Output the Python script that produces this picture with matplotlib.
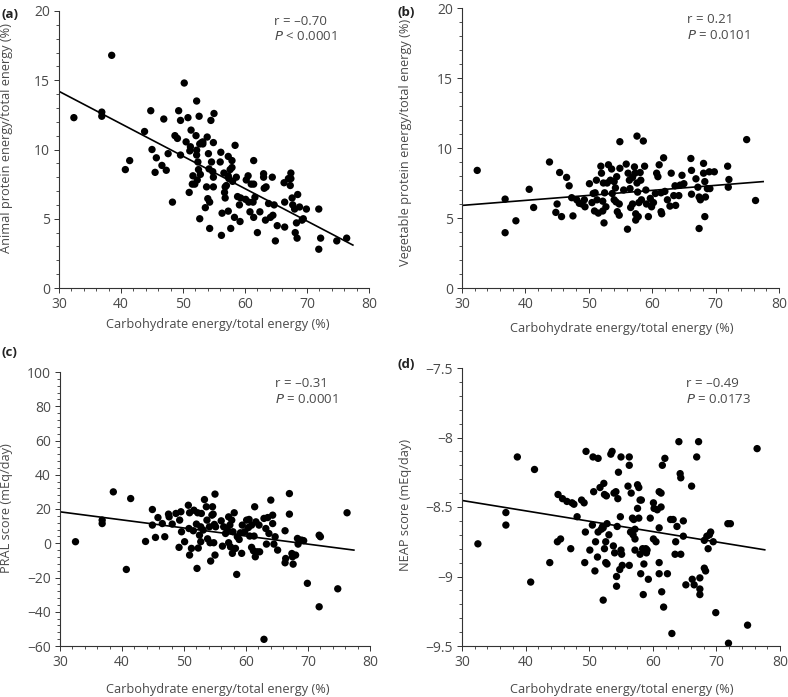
import numpy as np
import matplotlib.pyplot as plt
from matplotlib.ticker import MultipleLocator, FuncFormatter

plt.rcParams['font.family'] = ['Open Sans', 'DejaVu Sans']

# (a) hiilihydraatti vs eläinproteiini
carb_a = [32.4, 36.9, 36.9, 38.5, 40.7, 41.4, 43.8, 44.8, 45.0, 45.7, 45.5, 46.6, 46.9, 47.3, 47.6,
          48.3, 48.7, 49.1, 49.3, 49.6, 49.6, 50.2, 50.5, 50.8, 51.0, 51.1, 51.2, 51.3, 51.5, 51.9,
          51.6, 52.2, 52.1, 52.2, 52.2, 52.3, 52.4, 52.5, 52.6, 52.7, 52.8, 52.7, 53.0, 53.2, 53.2,
          53.6, 53.8, 53.9, 54.1, 54.2, 54.0, 54.3, 54.3, 54.5, 54.6, 54.8, 54.9, 55.0, 54.9, 54.9,
          56.1, 56.0, 56.3, 56.2, 56.6, 56.8, 56.7, 56.8, 57.0, 57.3, 57.3, 57.3, 57.4, 57.6, 57.7,
          57.9, 57.9, 58.0, 58.4, 58.3, 58.6, 58.8, 59.1, 59.2, 59.3, 60.1, 60.2, 60.5, 60.6, 60.8,
          61.0, 61.4, 61.3, 61.4, 61.6, 61.4, 62.0, 62.4, 63.0, 63.0, 63.1, 63.4, 63.3, 63.8, 64.1,
          64.4, 64.5, 64.7, 64.9, 65.2, 66.3, 66.4, 66.4, 67.0, 67.3, 67.4, 67.4, 67.6, 67.7, 68.0,
          68.1, 68.4, 68.3, 68.5, 68.8, 69.2, 69.4, 69.9, 71.9, 71.9, 72.2, 74.8, 76.4]
animal_a = [12.3, 12.7, 12.4, 16.8, 8.55, 9.2, 11.3, 12.8, 10.0, 9.4, 8.35, 8.85, 12.2, 8.5, 9.7,
            6.2, 11.0, 10.8, 12.8, 12.1, 9.6, 14.8, 10.55, 12.3, 6.9, 9.9, 10.2, 11.4, 7.5, 7.5,
            8.1, 13.5, 11.0, 9.95, 9.6, 7.8, 9.1, 8.55, 12.4, 10.4, 8.2, 5.0, 10.5, 10.55, 10.4,
            5.8, 7.3, 10.9, 9.7, 8.6, 6.45, 6.2, 4.3, 12.1, 9.1, 8.4, 10.5, 12.6, 8.0, 7.3,
            9.8, 9.1, 5.4, 3.8, 8.3, 7.3, 6.9, 6.5, 7.4, 9.5, 5.55, 8.1, 7.9, 8.55, 4.3,
            9.2, 8.7, 7.7, 10.3, 5.1, 8.0, 6.6, 6.0, 4.8, 6.5, 6.4, 7.8, 8.1, 6.2, 5.5,
            7.5, 7.5, 6.2, 9.2, 6.55, 5.1, 4.0, 5.5, 8.25, 8.0, 7.2, 7.3, 4.9, 6.1, 5.1,
            8.0, 5.25, 6.0, 3.4, 4.5, 7.6, 6.2, 4.4, 7.9, 7.4, 8.3, 7.9, 6.5, 6.0, 5.7,
            4.0, 3.6, 4.7, 6.75, 5.85, 4.9, 5.0, 5.7, 5.7, 2.8, 3.6, 3.4, 3.6]

# (b) hiilihydraatti vs kasviproteiini
carb_b = [32.4, 36.8, 36.8, 38.5, 40.6, 41.3, 43.8, 45.0, 44.8, 45.4, 45.7, 46.5, 46.9, 47.3, 47.5,
          48.1, 48.5, 48.9, 49.3, 49.4, 50.1, 50.5, 50.7, 50.9, 51.2, 51.0, 51.3, 51.5, 51.9, 52.0,
          52.2, 52.2, 52.3, 52.5, 52.4, 52.7, 52.9, 53.1, 53.4, 53.6, 53.7, 54.0, 54.0, 54.2, 54.3,
          54.4, 54.5, 54.8, 54.8, 54.9, 54.9, 55.5, 55.9, 56.1, 56.2, 56.4, 56.5, 56.6, 56.9, 56.9,
          57.2, 57.3, 57.4, 57.4, 57.6, 57.6, 57.7, 57.8, 57.9, 58.1, 58.2, 58.3, 58.6, 58.8, 59.0,
          59.1, 59.4, 59.7, 59.9, 60.2, 60.5, 60.7, 60.9, 61.1, 61.4, 61.4, 61.5, 61.8, 62.0, 62.4,
          62.8, 63.0, 63.4, 63.6, 63.7, 64.2, 64.4, 64.7, 65.0, 66.1, 66.2, 66.2, 66.9, 67.2, 67.4,
          67.4, 67.6, 68.1, 68.1, 68.3, 68.3, 68.4, 68.7, 69.0, 69.1, 69.8, 71.9, 72.0, 72.1, 74.9,
          76.3]
veg_b = [8.4, 6.35, 3.95, 4.8, 7.05, 5.75, 9.0, 6.0, 5.4, 8.25, 5.1, 7.9, 7.3, 6.45, 5.15,
         6.3, 6.05, 6.0, 6.3, 5.8, 7.45, 6.1, 6.75, 5.5, 7.7, 6.8, 6.3, 5.35, 8.7, 8.2,
         6.2, 5.5, 7.5, 6.8, 4.65, 5.8, 7.5, 8.8, 7.7, 8.5, 6.75, 6.3, 7.6, 7.15, 6.15,
         7.95, 5.45, 6.0, 5.2, 10.45, 8.55, 7.0, 8.85, 4.2, 8.2, 7.7, 7.1, 5.75, 6.0, 7.9,
         8.65, 8.2, 4.85, 5.3, 10.85, 7.5, 6.85, 5.1, 6.1, 8.25, 7.7, 6.3, 10.5, 8.7, 7.0,
         6.0, 5.1, 6.4, 5.8, 6.1, 6.75, 8.2, 7.95, 8.8, 6.8, 5.45, 5.3, 9.3, 6.9, 6.3,
         5.85, 8.2, 6.6, 7.3, 5.9, 6.6, 7.35, 8.05, 7.45, 9.25, 8.4, 6.7, 7.8, 7.2, 4.25,
         6.5, 6.3, 8.9, 8.2, 7.6, 5.1, 6.5, 7.1, 8.3, 7.1, 8.3, 8.7, 7.2, 7.75, 10.6,
         6.25]

# (c) hiilihydraatti vs PRAL
carb_c = [32.5, 36.8, 36.8, 38.6, 40.7, 41.4, 43.8, 44.9, 44.9, 45.4, 45.8, 46.5, 46.9, 47.5, 47.6,
          48.1, 48.7, 49.2, 49.3, 49.5, 49.6, 50.1, 50.7, 50.8, 50.9, 50.9, 51.2, 51.5, 51.6, 52.0,
          52.1, 52.2, 52.3, 52.5, 52.7, 52.7, 52.8, 53.1, 53.3, 53.6, 53.7, 53.8, 54.1, 54.2, 54.3,
          54.5, 54.6, 54.7, 54.8, 54.9, 55.0, 55.0, 55.1, 56.0, 56.4, 56.2, 56.7, 57.0, 57.2, 57.4,
          57.7, 57.2, 57.5, 57.9, 57.8, 58.1, 58.3, 58.5, 58.6, 58.9, 59.1, 59.3, 59.4, 59.8, 60.1,
          60.4, 60.5, 60.6, 60.9, 60.9, 61.2, 61.3, 61.4, 61.6, 61.5, 61.8, 62.1, 62.2, 62.9, 63.2,
          63.3, 63.5, 63.7, 64.0, 64.3, 64.3, 64.5, 64.7, 65.1, 66.3, 66.4, 66.3, 67.0, 67.0, 67.4,
          67.5, 67.6, 68.0, 68.3, 68.4, 68.7, 69.0, 69.3, 69.9, 71.8, 72.0, 71.8, 74.8, 76.3, 62.9]
pral_c = [0.9, 13.5, 11.5, 30.0, -15.3, 26.1, 1.05, 19.7, 10.6, 3.4, 15.0, 11.5, 3.8, 17.0, 15.4,
          11.2, 17.4, -2.4, 13.5, 18.4, 6.7, 0.9, 22.2, 8.6, -6.9, 17.8, -3.0, 7.3, 19.3, 11.2,
          -14.7, 17.8, -2.8, 4.7, 9.6, 0.9, 17.4, 7.7, 25.5, 21.3, 13.5, 2.6, 9.6, 0.3, -10.4,
          16.4, 21.3, 17.0, 0.3, 11.0, 28.7, -6.9, 9.6, 13.1, 9.6, -1.7, 5.7, 7.7, 15.4, 10.6,
          13.5, 0.3, -2.1, 6.7, -5.9, 17.8, -3.0, -18.2, 3.8, 2.2, 6.1, -5.9, 10.6, 6.7, 13.5,
          9.2, 13.9, 4.2, 10.6, -2.4, -4.4, 4.2, 21.3, 12.5, -7.9, -5.0, 10.6, -5.0, 14.5, 8.6,
          -0.5, 15.0, 5.7, 25.2, 16.4, 11.5, -0.5, 3.8, -4.0, 7.3, -8.9, -11.4, 29.0, 17.0, -6.0,
          -7.9, -12.2, -6.9, 2.8, -0.5, 1.8, 1.8, 1.5, -23.4, 4.7, 3.8, -37.1, -26.6, 17.8, -56.1]

# (d) hiilihydraatti vs NEAP
carb_d = [32.5, 36.9, 36.9, 38.7, 40.8, 41.4, 43.8, 45.0, 45.5, 45.1, 45.8, 46.5, 47.1, 47.3, 47.6,
          48.1, 48.8, 49.2, 49.3, 49.4, 49.5, 50.1, 50.5, 50.6, 50.7, 50.9, 51.0, 51.3, 51.4, 51.4,
          51.7, 51.9, 52.1, 52.2, 52.2, 52.3, 52.4, 52.4, 52.6, 52.6, 52.7, 52.8, 53.1, 52.8, 53.4,
          53.6, 53.8, 53.9, 54.0, 54.2, 54.3, 54.3, 54.4, 54.5, 54.6, 54.8, 54.9, 55.0, 55.0, 55.1,
          55.2, 56.1, 56.3, 56.3, 56.3, 56.6, 56.5, 56.8, 57.0, 56.9, 57.2, 57.2, 57.2, 57.6, 57.6,
          57.8, 57.8, 58.0, 58.0, 58.1, 58.2, 58.4, 58.5, 58.6, 58.9, 59.0, 59.1, 59.3, 59.6, 60.1,
          60.2, 60.1, 60.5, 60.7, 61.0, 61.0, 61.0, 61.0, 61.3, 61.3, 61.4, 61.5, 61.7, 61.9, 62.3,
          62.8, 63.2, 63.0, 63.5, 63.6, 63.8, 64.1, 64.3, 64.4, 64.4, 64.8, 64.8, 65.2, 66.1, 66.2,
          66.5, 66.9, 67.2, 67.4, 67.4, 67.4, 68.1, 68.3, 68.1, 68.5, 68.7, 68.9, 69.1, 69.5, 69.9,
          71.8, 72.2, 71.9, 74.9, 76.4]
neap_d = [-8.765, -8.54, -8.63, -8.14, -9.04, -8.23, -8.90, -8.75, -8.73, -8.41, -8.44, -8.46, -8.80, -8.47, -8.48,
          -8.57, -8.45, -8.47, -8.90, -8.68, -8.10, -8.81, -8.63, -8.14, -8.39, -8.96, -8.75, -8.86, -8.15, -8.68,
          -8.36, -8.66, -8.64, -9.17, -8.65, -8.33, -8.80, -8.41, -8.90, -8.75, -8.42, -8.62, -8.70, -8.91, -8.12,
          -8.10, -8.78, -8.40, -8.83, -8.39, -9.00, -9.07, -8.64, -8.44, -8.25, -8.95, -8.57, -8.14, -8.81, -8.84,
          -8.92, -8.35, -8.14, -8.20, -8.92, -8.40, -8.68, -8.58, -8.59, -8.70, -8.66, -8.73, -8.81, -8.51, -8.34,
          -8.36, -8.58, -8.45, -8.84, -8.98, -8.45, -8.80, -9.13, -8.91, -8.80, -8.83, -8.81, -9.02, -8.58, -8.47,
          -8.51, -8.73, -8.75, -8.52, -8.39, -8.65, -8.90, -8.98, -8.50, -8.40, -9.11, -8.20, -9.22, -8.15, -8.98,
          -8.59, -8.59, -9.41, -8.84, -8.75, -8.64, -8.03, -8.26, -8.29, -8.84, -8.60, -8.71, -9.06, -8.35, -9.02,
          -9.06, -8.14, -8.03, -9.09, -9.13, -9.01, -8.94, -8.96, -8.74, -8.71, -8.80, -8.70, -8.68, -8.75, -9.26,
          -8.62, -8.62, -9.48, -9.35, -8.08]

# regressiosuorien päätepisteet
line_x_a = [30, 77.4]
line_a = [14.2, 3.1]
line_x_b = [30, 77.5]
line_b = [5.9, 7.6]
line_x_c = [30, 77.4]
line_c = [18.35, -4.0]
line_x_d = [30, 77.6]
line_d = [-8.453, -8.808]

xlabel = 'Carbohydrate energy/total energy (%)'
ylabels = ['Animal protein energy/total energy (%)', 'Vegetable protein energy/total energy (%)',
           'PRAL score (mEq/day)', 'NEAP score (mEq/day)']
r_texts = ['r = \u20130.70', 'r = 0.21', 'r = \u20130.31', 'r = \u20130.49']
p_texts = [r'$\it{P}$ < 0.0001', r'$\it{P}$ = 0.0101', r'$\it{P}$ = 0.0001', r'$\it{P}$ = 0.0173']
panel_tags = ['(a)', '(b)', '(c)', '(d)']

W, H = 788, 697
fig = plt.figure(figsize=(W / 100, H / 100), dpi=100)

# akselien paikat pikseleinä: vasen, oikea, ylä, ala
boxes = [(59, 369, 11, 288), (462, 779, 8, 288), (60, 370, 372, 646), (462, 780, 368, 646)]
data = [(carb_a, animal_a, line_x_a, line_a), (carb_b, veg_b, line_x_b, line_b),
        (carb_c, pral_c, line_x_c, line_c), (carb_d, neap_d, line_x_d, line_d)]
ylims = [(0, 20), (0, 20), (-60, 100), (-9.5, -7.5)]
ymajor = [5, 5, 20, 0.5]
yminor = [1, 1, 4, 0.1]
# y-otsikon oikea reuna ja keskikohta (pikseleinä), x-otsikon keskikohta ja yläreuna
ylab_px = [(13, 138), (412, 142), (13, 508), (412, 505)]
xlab_px = [(218, 318), (622, 322), (218, 683), (622, 683)]
txt_pos = [(0.694, 0.949, 0.895), (0.71, 0.946, 0.889), (0.694, 0.946, 0.888), (0.704, 0.933, 0.875)]
tag_pos = [(1, 15), (398, 13), (2, 353), (398, 365)]

gray = '#4a4a4a'

def fmt(v, pos):
    s = ('%g' % v)
    return s.replace('-', '\u2212')

for i in range(4):
    l, r, t, b = boxes[i]
    ax = fig.add_axes([l / W, 1 - b / H, (r - l) / W, (b - t) / H])
    xs, ys, lx, ly = data[i]
    ax.scatter(xs, ys, s=28, c='black', edgecolors='none', zorder=3)
    ax.plot(lx, ly, color='black', lw=1.2, zorder=2)

    ax.set_xlim(30, 80)
    ax.set_ylim(*ylims[i])
    ax.xaxis.set_major_locator(MultipleLocator(10))
    ax.xaxis.set_minor_locator(MultipleLocator(2))
    ax.yaxis.set_major_locator(MultipleLocator(ymajor[i]))
    ax.yaxis.set_minor_locator(MultipleLocator(yminor[i]))
    ax.yaxis.set_major_formatter(FuncFormatter(fmt))

    for side in ['top', 'right']:
        ax.spines[side].set_visible(False)
    for side in ['left', 'bottom']:
        ax.spines[side].set_color('#333333')
        ax.spines[side].set_linewidth(0.8)
    ax.tick_params(which='major', direction='out', length=3.5, width=0.7, color='#333333',
                   labelsize=10, labelcolor=gray, pad=3)
    ax.tick_params(which='minor', direction='out', length=2, width=0.6, color='#333333')

    ax.set_xlabel(xlabel, fontsize=9.2, color=gray)
    ax.set_ylabel(ylabels[i], fontsize=9.2, color=gray)
    yx, yy = ylab_px[i]
    ax.yaxis.set_label_coords((yx - l) / (r - l), (b - yy) / (b - t))
    xx, xy = xlab_px[i]
    ax.xaxis.set_label_coords((xx - l) / (r - l), (b - xy) / (b - t))

    tx, ty1, ty2 = txt_pos[i]
    ax.text(tx, ty1, r_texts[i], transform=ax.transAxes, fontsize=9.5, color=gray, va='baseline')
    ax.text(tx, ty2, p_texts[i], transform=ax.transAxes, fontsize=9.5, color=gray, va='baseline')

    px, py = tag_pos[i]
    fig.text(px / W, 1 - py / H, panel_tags[i], fontsize=9.5, fontweight='bold',
             color='#222222', va='center', ha='left')

fig.savefig('out.png', dpi=100)
